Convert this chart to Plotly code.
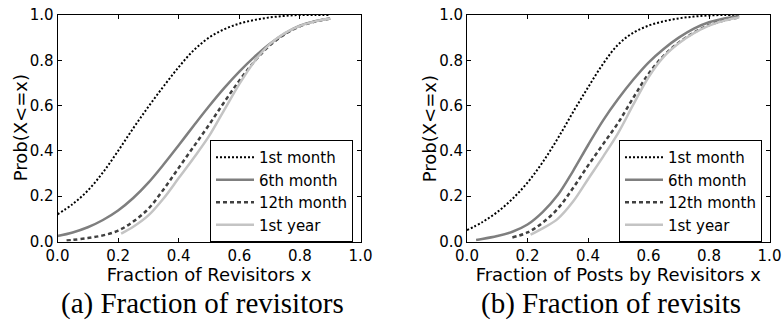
import plotly.graph_objects as go

# ---- data ----
series_names = ["1st month", "6th month", "12th month", "1st year"]

# Panel (a): Fraction of Revisitors
a_m1_x = [0.0, 0.05, 0.1, 0.15, 0.2, 0.25, 0.3, 0.35, 0.4, 0.45, 0.5, 0.55, 0.6, 0.65, 0.7, 0.75, 0.8, 0.85, 0.9]
a_m1_y = [0.12, 0.165, 0.225, 0.305, 0.40, 0.50, 0.595, 0.685, 0.77, 0.845, 0.90, 0.937, 0.962, 0.978, 0.989, 0.996, 1.0, 1.0, 1.0]
a_m6_x = [0.0, 0.05, 0.1, 0.15, 0.2, 0.25, 0.3, 0.35, 0.4, 0.45, 0.5, 0.55, 0.6, 0.65, 0.7, 0.75, 0.8, 0.85, 0.9]
a_m6_y = [0.024, 0.04, 0.063, 0.095, 0.137, 0.192, 0.26, 0.34, 0.425, 0.512, 0.597, 0.677, 0.75, 0.815, 0.872, 0.918, 0.953, 0.973, 0.985]
a_m12_x = [0.03, 0.05, 0.1, 0.15, 0.2, 0.25, 0.3, 0.35, 0.4, 0.45, 0.5, 0.55, 0.6, 0.65, 0.7, 0.75, 0.8, 0.85, 0.9]
a_m12_y = [0.004, 0.007, 0.015, 0.027, 0.048, 0.088, 0.145, 0.23, 0.325, 0.42, 0.515, 0.615, 0.71, 0.795, 0.865, 0.915, 0.95, 0.971, 0.985]
a_y1_x = [0.21, 0.25, 0.3, 0.35, 0.4, 0.45, 0.5, 0.55, 0.6, 0.65, 0.7, 0.75, 0.8, 0.85, 0.9]
a_y1_y = [0.035, 0.065, 0.115, 0.19, 0.28, 0.37, 0.465, 0.58, 0.695, 0.795, 0.87, 0.92, 0.952, 0.972, 0.985]

# Panel (b): Fraction of Posts by Revisitors
b_m1_x = [0.0, 0.05, 0.1, 0.15, 0.2, 0.25, 0.3, 0.35, 0.4, 0.45, 0.5, 0.55, 0.6, 0.65, 0.7, 0.75, 0.8, 0.85, 0.9]
b_m1_y = [0.05, 0.085, 0.13, 0.188, 0.26, 0.35, 0.455, 0.57, 0.68, 0.785, 0.87, 0.922, 0.953, 0.972, 0.985, 0.993, 0.998, 1.0, 1.0]
b_m6_x = [0.03, 0.05, 0.1, 0.15, 0.2, 0.25, 0.3, 0.35, 0.4, 0.45, 0.5, 0.55, 0.6, 0.65, 0.7, 0.75, 0.8, 0.85, 0.9]
b_m6_y = [0.007, 0.011, 0.024, 0.043, 0.075, 0.13, 0.205, 0.31, 0.425, 0.535, 0.63, 0.715, 0.79, 0.85, 0.90, 0.94, 0.968, 0.985, 0.995]
b_m12_x = [0.15, 0.2, 0.25, 0.3, 0.35, 0.4, 0.45, 0.5, 0.55, 0.6, 0.65, 0.7, 0.75, 0.8, 0.85, 0.9]
b_m12_y = [0.018, 0.04, 0.083, 0.145, 0.235, 0.335, 0.43, 0.525, 0.635, 0.74, 0.82, 0.878, 0.922, 0.955, 0.976, 0.99]
b_y1_x = [0.21, 0.25, 0.3, 0.35, 0.4, 0.45, 0.5, 0.55, 0.6, 0.65, 0.7, 0.75, 0.8, 0.85, 0.9]
b_y1_y = [0.03, 0.058, 0.10, 0.175, 0.275, 0.375, 0.48, 0.605, 0.725, 0.815, 0.875, 0.92, 0.953, 0.975, 0.99]

x_ticks = [0.0, 0.2, 0.4, 0.6, 0.8, 1.0]
y_ticks = [0.0, 0.2, 0.4, 0.6, 0.8, 1.0]
x_titles = ["Fraction of Revisitors x", "Fraction of Posts by Revisitors x"]
y_title = "Prob(X<=x)"
captions = ["(a) Fraction of revisitors", "(b) Fraction of revisits"]

styles = [
    dict(color="#000000", width=2, dash="2px,2px"),
    dict(color="#7f7f7f", width=2.5, dash="solid"),
    dict(color="#404040", width=2.5, dash="4px,3px"),
    dict(color="#c4c4c4", width=2.5, dash="solid"),
]

panels = [
    [(a_m1_x, a_m1_y), (a_m6_x, a_m6_y), (a_m12_x, a_m12_y), (a_y1_x, a_y1_y)],
    [(b_m1_x, b_m1_y), (b_m6_x, b_m6_y), (b_m12_x, b_m12_y), (b_y1_x, b_y1_y)],
]

fig = go.Figure()
for p, data in enumerate(panels):
    ax = "" if p == 0 else "2"
    for i, (xs, ys) in enumerate(data):
        fig.add_trace(go.Scatter(
            x=xs, y=ys, mode="lines", name=series_names[i],
            line=dict(shape="spline", smoothing=1.0, **styles[i]),
            xaxis="x" + ax, yaxis="y" + ax,
            legend="legend" if p == 0 else "legend2",
        ))

W, H = 783, 329
font = "DejaVu Sans"
axis_common = dict(
    range=[0, 1], tickformat=".1f",
    showline=True, linecolor="#000000", linewidth=1, mirror="ticks",
    ticks="inside", ticklen=4, tickcolor="#000000",
    showgrid=False, zeroline=False, automargin=False,
    tickfont=dict(family=font, size=15, color="#000000"),
)
dom_top = 1 - 15 / H
dom_bot = 1 - 241.5 / H
x_domains = [[57.5 / W, 360.5 / W], [467 / W, 769.5 / W]]

fig.update_layout(
    width=W, height=H, margin=dict(l=0, r=0, t=0, b=0),
    paper_bgcolor="white", plot_bgcolor="white",
    font=dict(family=font, size=16, color="#000000"),
    xaxis=dict(domain=x_domains[0], anchor="y", tickvals=x_ticks,
               title=dict(text=x_titles[0], font=dict(size=18), standoff=0), **axis_common),
    yaxis=dict(domain=[dom_bot, dom_top], anchor="x", tickvals=y_ticks, **axis_common),
    xaxis2=dict(domain=x_domains[1], anchor="y2", tickvals=x_ticks,
                title=dict(text=x_titles[1], font=dict(size=18), standoff=0), **axis_common),
    yaxis2=dict(domain=[dom_bot, dom_top], anchor="x2", tickvals=y_ticks, **axis_common),
    legend=dict(x=210 / W, y=1 - 140 / H, xanchor="left", yanchor="top",
                bordercolor="#000000", borderwidth=1, bgcolor="white",
                font=dict(size=15), tracegroupgap=0, itemwidth=38),
    legend2=dict(x=619 / W, y=1 - 140 / H, xanchor="left", yanchor="top",
                 bordercolor="#000000", borderwidth=1, bgcolor="white",
                 font=dict(size=15), tracegroupgap=0, itemwidth=38),
    showlegend=True,
)

# y-axis titles
for tx in [20 / W, 429 / W]:
    fig.add_annotation(text=y_title, x=tx, y=(dom_bot + dom_top) / 2, xref="paper", yref="paper",
                       xanchor="center", yanchor="middle", showarrow=False, textangle=-90,
                       font=dict(family=font, size=18, color="#000000"))

cap_x = [202 / W, 611 / W]
for cx, text in zip(cap_x, captions):
    fig.add_annotation(text=text, x=cx, y=1 - 303 / H, xref="paper", yref="paper",
                       xanchor="center", yanchor="middle", showarrow=False,
                       font=dict(family="Liberation Serif", size=29, color="#000000"))

fig.write_html("out.html")
